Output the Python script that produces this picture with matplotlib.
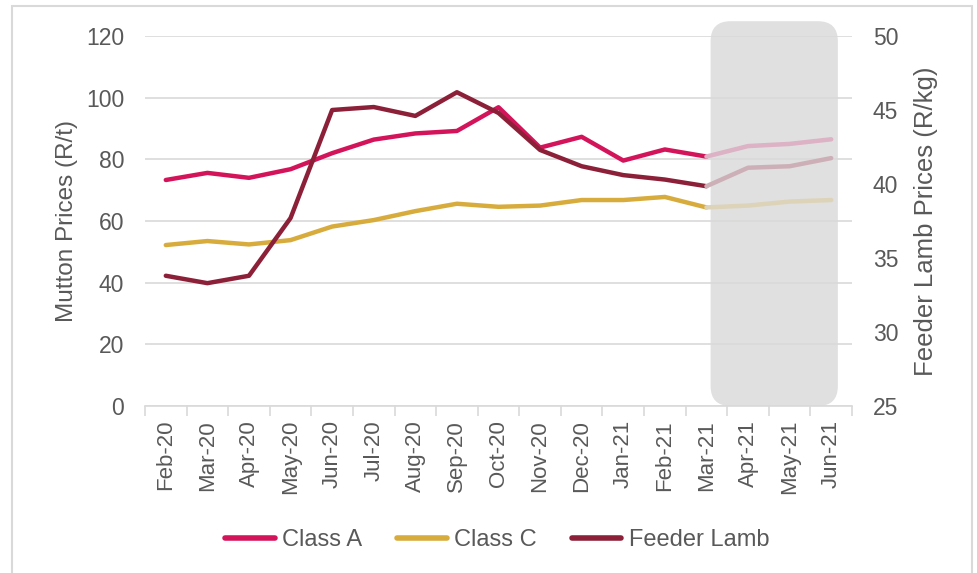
import matplotlib
matplotlib.use("Agg")
import matplotlib.pyplot as plt
from matplotlib.patches import FancyBboxPatch, Rectangle
from matplotlib.lines import Line2D
import numpy as np

plt.rcParams['font.family'] = ['Liberation Sans', 'DejaVu Sans']

months = ["Feb-20", "Mar-20", "Apr-20", "May-20", "Jun-20", "Jul-20", "Aug-20",
          "Sep-20", "Oct-20", "Nov-20", "Dec-20", "Jan-21", "Feb-21", "Mar-21",
          "Apr-21", "May-21", "Jun-21"]
class_a = [73.3, 75.6, 74.0, 76.8, 82.0, 86.4, 88.4, 89.2, 96.9, 83.8, 87.3,
           79.6, 83.2, 80.9, 84.3, 85.0, 86.5]
class_c = [52.2, 53.5, 52.4, 53.8, 58.2, 60.3, 63.2, 65.6, 64.6, 65.0, 66.8,
           66.8, 67.8, 64.4, 65.0, 66.3, 66.8]
feeder_lamb = [33.8, 33.3, 33.8, 37.7, 45.0, 45.2, 44.6, 46.2, 44.8, 42.3,
               41.2, 40.6, 40.3, 39.85, 41.1, 41.2, 41.75]
forecast_start = 13  # Mar-21: last actual point

col_a, col_c, col_f = "#d4145a", "#d8ac3c", "#8c2038"
fade_a, fade_c, fade_f = "#dcb2c4", "#ddd3b8", "#cdb0b7"
txt = "#595959"

fig = plt.figure(figsize=(9.78, 5.73), dpi=100)
ax = fig.add_axes([145/978, 1-406/573, (852-145)/978, (406-36)/573])
ax2 = ax.twinx()

x = np.arange(len(months))
ax.set_xlim(-0.5, len(months)-0.5)
ax.set_ylim(0, 120)
ax2.set_ylim(25, 50)

# forecast shaded box (rounded) in pixel coords derived from data
x0 = ax.transData.transform((forecast_start + 0.1, 0))[0]
x1 = ax.transData.transform((len(months) - 1 + 0.16, 0))[0]
y0 = ax.transAxes.transform((0, 0.0))[1]
y1 = ax.transAxes.transform((0, 1.04))[1]
box = FancyBboxPatch((x0 + 15, y0 + 15), (x1 - x0) - 30, (y1 - y0) - 30,
                     boxstyle="round,pad=15,rounding_size=20",
                     transform=None, facecolor="#e0e0e0", edgecolor="none",
                     zorder=0.5)
fig.patches.append(box)
ax.set_zorder(1); ax2.set_zorder(2)
ax.patch.set_visible(False); ax2.patch.set_visible(False)

ax.set_yticks(np.arange(0, 121, 20))
ax2.set_yticks(np.arange(25, 51, 5))
ax.grid(axis='y', color="#d9d9d9", linewidth=1.2)
ax.set_axisbelow(True)

fs = forecast_start
lw = 3.2
ax.plot(x[:fs+1], class_a[:fs+1], color=col_a, lw=lw, solid_capstyle='round', zorder=3)
ax.plot(x[fs:], class_a[fs:], color=fade_a, lw=lw, solid_capstyle='round', zorder=3)
ax.plot(x[:fs+1], class_c[:fs+1], color=col_c, lw=lw, solid_capstyle='round', zorder=3)
ax.plot(x[fs:], class_c[fs:], color=fade_c, lw=lw, solid_capstyle='round', zorder=3)
ax2.plot(x[:fs+1], feeder_lamb[:fs+1], color=col_f, lw=lw, solid_capstyle='round', zorder=3)
ax2.plot(x[fs:], feeder_lamb[fs:], color=fade_f, lw=lw, solid_capstyle='round', zorder=3)

for a in (ax, ax2):
    for s in ("top", "left", "right"):
        a.spines[s].set_visible(False)
    a.spines["bottom"].set_color("#d9d9d9")
    a.spines["bottom"].set_linewidth(1.2)
ax2.spines["bottom"].set_visible(False)

ax.set_xticks(x)
ax.set_xticklabels(months, rotation=90, fontsize=16, color=txt)
ax.tick_params(axis='x', which='major', length=0, pad=10)
ax.set_xticks(np.arange(-0.5, len(months), 1), minor=True)
ax.tick_params(axis='x', which='minor', length=7, color="#d9d9d9", width=1.2)
ax.tick_params(axis='y', length=0, labelsize=16.5, labelcolor=txt, pad=15)
ax2.tick_params(axis='y', length=0, labelsize=16.5, labelcolor=txt, pad=15)

ax.set_ylabel("Mutton Prices (R/t)", fontsize=17.5, color=txt, labelpad=6)
ax2.set_ylabel("Feeder Lamb Prices (R/kg)", fontsize=18.5, color=txt, labelpad=11)

handles = [Line2D([], [], color=col_a, lw=4, solid_capstyle='round'),
           Line2D([], [], color=col_c, lw=4, solid_capstyle='round'),
           Line2D([], [], color=col_f, lw=4, solid_capstyle='round')]
leg = fig.legend(handles, ["Class A", "Class C", "Feeder Lamb"], loc="center",
                 bbox_to_anchor=(497/978, 1-540/573), ncol=3, frameon=False,
                 fontsize=17, handlelength=2.1, handletextpad=0.3, columnspacing=1.5)
for t in leg.get_texts():
    t.set_color(txt)

fig.patches.append(Rectangle((12/978, -0.05), (972-12)/978, 1-6/573+0.05,
                             transform=fig.transFigure, fill=False,
                             edgecolor="#d9d9d9", linewidth=1.5))

fig.savefig("out.png", dpi=100)
